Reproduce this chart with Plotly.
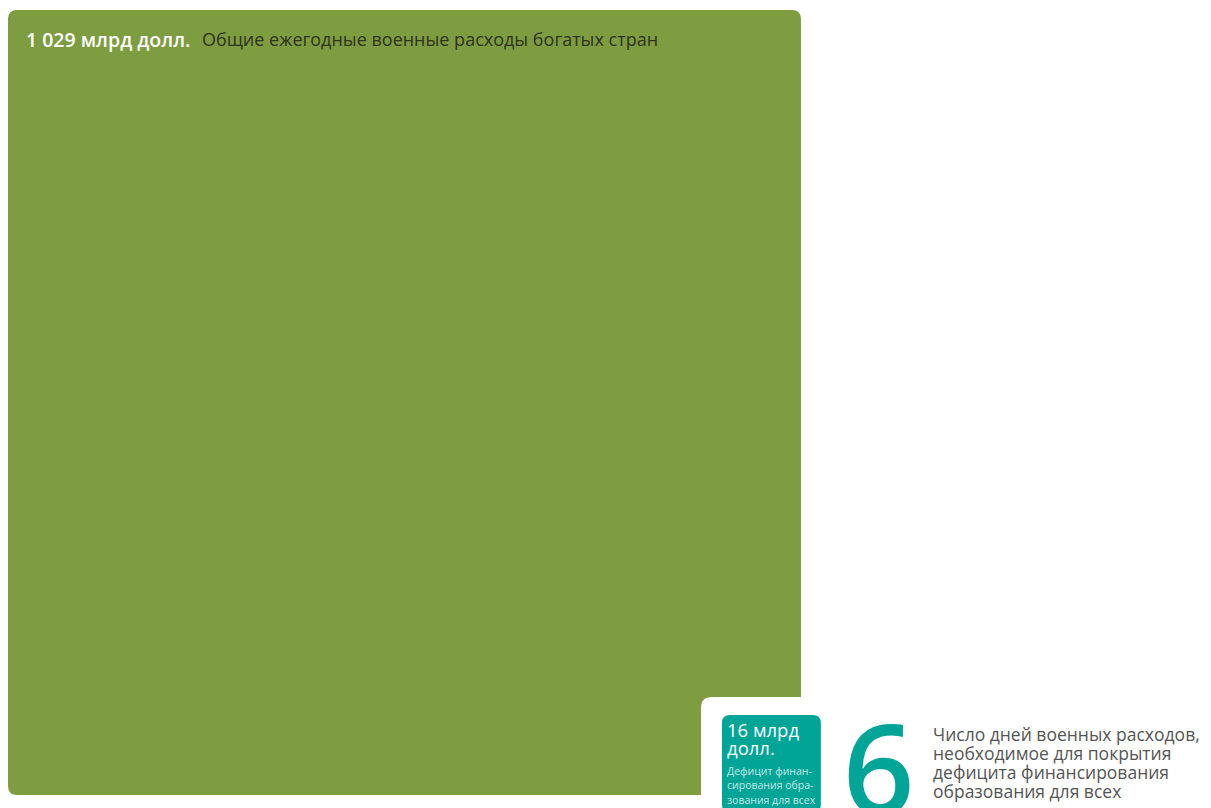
import math
import plotly.graph_objects as go

# ---- data ----
labels = ["Общие ежегодные военные расходы богатых стран", "Дефицит финансирования образования для всех"]
values = [1029, 16]                      # млрд долл.
value_texts = ["1 029 млрд долл.", "16 млрд долл."]
small_value_lines = ["16 млрд", "долл."]
small_lines = ["Дефицит финан-", "сирования обра-", "зования для всех"]
big_number = "6"
right_lines = ["Число дней военных расходов,", "необходимое для покрытия",
               "дефицита финансирования", "образования для всех"]

# ---- layout constants ----
W, H = 1211, 808
KX = 24.72                     # pixels per unit on x (unit = sqrt(млрд долл.))
KY = 24.47                     # pixels per unit on y
GREEN = "rgb(125,157,64)"
TEAL = "rgb(0,165,152)"
FONT = "Open Sans"

sides = [math.sqrt(v) for v in values]
big_side, small_side = sides

big_x0, big_y0 = 0.0, 2 / KY
small_x0 = big_x0 + big_side - 79 / KX
small_y0 = big_y0 + big_side - 80 / KY
pad_x, pad_y = 21 / KX, 18 / KY


def rrect(x0, y0, x1, y1, r):
    rx, ry = r / KX, r / KY
    return (f"M {x0+rx},{y0} L {x1-rx},{y0} Q {x1},{y0} {x1},{y0+ry} "
            f"L {x1},{y1-ry} Q {x1},{y1} {x1-rx},{y1} L {x0+rx},{y1} "
            f"Q {x0},{y1} {x0},{y1-ry} L {x0},{y0+ry} Q {x0},{y0} {x0+rx},{y0} Z")


shapes = [
    dict(type="path", xref="x", yref="y", layer="below", line=dict(width=0), fillcolor=GREEN,
         path=rrect(big_x0, big_y0, big_x0 + big_side, big_y0 + big_side, 9)),
    dict(type="path", xref="x", yref="y", layer="below", line=dict(width=0), fillcolor="white",
         path=rrect(small_x0 - pad_x, small_y0 - pad_y, small_x0 + small_side + pad_x,
                    small_y0 + small_side + pad_y, 11)),
    dict(type="path", xref="x", yref="y", layer="below", line=dict(width=0), fillcolor=TEAL,
         path=rrect(small_x0, small_y0, small_x0 + small_side, small_y0 + small_side, 8)),
]

ann = []
# title on the big square
ann.append(dict(x=big_x0 + 16 / KX, y=big_y0 + 29 / KY, text=value_texts[0], showarrow=False,
                xanchor="left", yanchor="middle",
                font=dict(family=FONT, size=19.5, color="white", weight=600)))
ann.append(dict(x=big_x0 + 192 / KX, y=big_y0 + 29 / KY, text=labels[0], showarrow=False,
                xanchor="left", yanchor="middle",
                font=dict(family=FONT, size=18, color="#30331f")))

# small square texts
tx = small_x0 + 3 / KX
for i, t in enumerate(small_value_lines):
    ann.append(dict(x=tx, y=small_y0 + (15 + 18 * i) / KY, text=t, showarrow=False,
                    xanchor="left", yanchor="middle",
                    font=dict(family=FONT, size=18.5, color="white")))
for i, t in enumerate(small_lines):
    ann.append(dict(x=tx, y=small_y0 + (56 + 14.5 * i) / KY, text=t, showarrow=False,
                    xanchor="left", yanchor="middle",
                    font=dict(family=FONT, size=10.5, color="rgba(255,255,255,0.78)")))

# big number
ann.append(dict(x=small_x0 + small_side + 20 / KX, y=small_y0 + 52 / KY, text=big_number,
                showarrow=False, xanchor="left", yanchor="middle",
                font=dict(family=FONT, size=125, color=TEAL, weight=600)))

# right text
rx = 923 / KX
for i, t in enumerate(right_lines):
    ann.append(dict(x=rx, y=(726 + 19 * i) / KY, text=t, showarrow=False,
                    xanchor="left", yanchor="middle",
                    font=dict(family=FONT, size=17.5, color="#555555")))

fig = go.Figure()
fig.add_trace(go.Scatter(x=[0], y=[0], mode="markers", marker=dict(opacity=0),
                         hoverinfo="skip", showlegend=False))
fig.update_layout(
    width=W, height=H, margin=dict(l=0, r=0, t=0, b=0),
    paper_bgcolor="white", plot_bgcolor="white",
    xaxis=dict(range=[0, W / KX], visible=False, fixedrange=True),
    yaxis=dict(range=[H / KY, 0], visible=False, fixedrange=True),
    shapes=shapes, annotations=ann, showlegend=False,
)
fig.write_html("out.html", config={"displayModeBar": False})
